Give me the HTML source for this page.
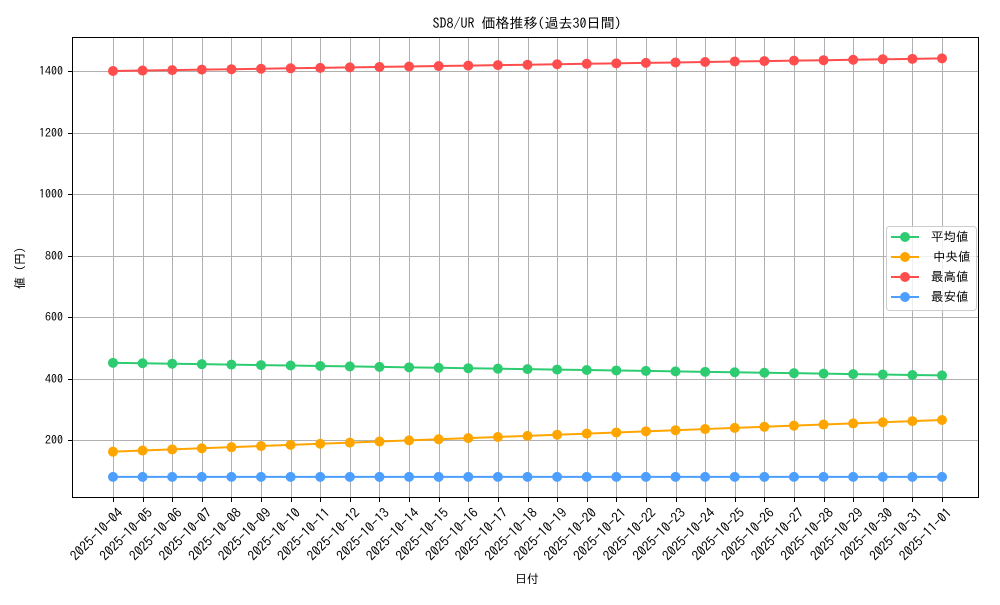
<!DOCTYPE html>
<html><head><meta charset="utf-8"><style>
body{margin:0;background:#fff}
svg{font-family:"IPAGothic","Noto Sans CJK JP",sans-serif;}
</style></head><body>
<svg id="s" width="1000" height="600" xmlns="http://www.w3.org/2000/svg">
<rect width="1000" height="600" fill="#fff"/>
<g id="grid" stroke="#b0b0b0" stroke-width="1"></g>
<g id="series"></g>
<rect x="72.5" y="37.5" width="906" height="460" fill="none" stroke="#000" stroke-width="1"/>
<g font-size="12" text-anchor="end" fill="#000">
<text x="63" y="75">1400</text><text x="63" y="137">1200</text><text x="63" y="198">1000</text>
<text x="63" y="260">800</text><text x="63" y="321">600</text><text x="63" y="383">400</text><text x="63" y="444">200</text>
</g>
<g id="xl" font-size="13.5" text-anchor="end">
<text>2025-10-04</text><text>2025-10-05</text><text>2025-10-06</text><text>2025-10-07</text><text>2025-10-08</text><text>2025-10-09</text><text>2025-10-10</text><text>2025-10-11</text><text>2025-10-12</text><text>2025-10-13</text><text>2025-10-14</text><text>2025-10-15</text><text>2025-10-16</text><text>2025-10-17</text><text>2025-10-18</text><text>2025-10-19</text><text>2025-10-20</text><text>2025-10-21</text><text>2025-10-22</text><text>2025-10-23</text><text>2025-10-24</text><text>2025-10-25</text><text>2025-10-26</text><text>2025-10-27</text><text>2025-10-28</text><text>2025-10-29</text><text>2025-10-30</text><text>2025-10-31</text><text>2025-11-01</text>
</g>
<text x="527" y="28" font-size="14" text-anchor="middle">SD8/UR 価格推移(過去30日間)</text>
<text x="527" y="583" font-size="12" text-anchor="middle">日付</text>
<text transform="translate(24,268) rotate(-90)" font-size="12" text-anchor="middle">値 (円)</text>
<g>
<rect x="886.5" y="226.5" width="90" height="84" rx="3" fill="#fff" fill-opacity="0.8" stroke="#ccc"/>
<line x1="891" y1="237" x2="919" y2="237" stroke="#2ecc71" stroke-width="2"/><circle cx="905" cy="237" r="5" fill="#2ecc71"/>
<line x1="891" y1="257" x2="919" y2="257" stroke="#ffa500" stroke-width="2"/><circle cx="905" cy="257" r="5" fill="#ffa500"/>
<line x1="891" y1="277" x2="919" y2="277" stroke="#ff4d4d" stroke-width="2"/><circle cx="905" cy="277" r="5" fill="#ff4d4d"/>
<line x1="891" y1="297" x2="919" y2="297" stroke="#4d9fff" stroke-width="2"/><circle cx="905" cy="297" r="5" fill="#4d9fff"/>
<g font-size="12.5"><text x="931" y="241">平均値</text><text x="933" y="261">中央値</text><text x="931" y="281">最高値</text><text x="931" y="301">最安値</text></g>
</g>
</svg>
<script>
var NS="http://www.w3.org/2000/svg",g=document.getElementById('grid'),se=document.getElementById('series');
function el(t,a,p){var e=document.createElementNS(NS,t);for(var k in a)e.setAttribute(k,a[k]);p.appendChild(e);return e;}
function X(i){return 113+i*829/28;}function Y(v){return 501.5-v*0.3075;}
for(var i=0;i<29;i++){var x=Math.round(X(i))+.5;el('line',{x1:x,x2:x,y1:38,y2:497},g);el('line',{x1:x,x2:x,y1:498,y2:502,stroke:'#000'},g);}
[200,400,600,800,1000,1200,1400].forEach(function(v){var y=Math.round(Y(v))+.5;el('line',{x1:73,x2:978,y1:y,y2:y},g);el('line',{x1:68,x2:72,y1:y,y2:y,stroke:'#000'},g);});
var xl=document.getElementById('xl').children;
for(var i=0;i<29;i++){var x=X(i)+4;xl[i].setAttribute('transform','translate('+x+',507) rotate(-45)');xl[i].setAttribute('dy','0.7em');}
var S=[['#2ecc71',451,410],['#ffa500',162,265],['#ff4d4d',1400,1441],['#4d9fff',80,80]];
S.forEach(function(s){var pts=[];for(var i=0;i<29;i++)pts.push(X(i)+','+Y(s[1]+(s[2]-s[1])*i/28));
el('polyline',{points:pts.join(' '),fill:'none',stroke:s[0],'stroke-width':2},se);
for(var i=0;i<29;i++){var p=pts[i].split(',');el('circle',{cx:p[0],cy:p[1],r:5,fill:s[0]},se);}});
</script>
</body></html>
